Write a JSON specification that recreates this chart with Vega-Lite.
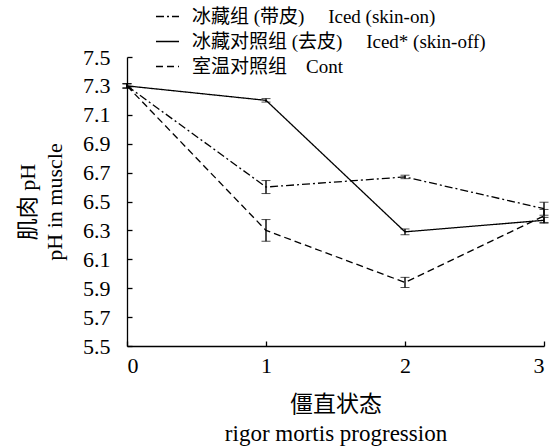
{
  "$schema": "https://vega.github.io/schema/vega-lite/v6.json",
  "width": 417,
  "height": 289,
  "autosize": {"type": "none"},
  "padding": {"left": 127, "top": 57, "right": 14, "bottom": 101},
  "config": {
    "font": "Liberation Serif, Noto Sans CJK SC",
    "view": {"stroke": null},
    "axis": {
      "domainColor": "black",
      "domainWidth": 1.3,
      "tickColor": "black",
      "tickWidth": 1.3,
      "tickSize": -5,
      "labelColor": "black",
      "titleColor": "black",
      "labelFontSize": 22,
      "titleFontSize": 22,
      "titleFontWeight": "normal",
      "labelOverlap": false,
      "grid": false
    }
  },
  "data": {
    "values": [
      {"stage": 0, "group": "skinon", "pH": 7.30, "err": 0.015},
      {"stage": 1, "group": "skinon", "pH": 6.60, "err": 0.045},
      {"stage": 2, "group": "skinon", "pH": 6.67, "err": 0.012},
      {"stage": 3, "group": "skinon", "pH": 6.45, "err": 0.045},
      {"stage": 0, "group": "skinoff", "pH": 7.30, "err": 0.015},
      {"stage": 1, "group": "skinoff", "pH": 7.20, "err": 0.012},
      {"stage": 2, "group": "skinoff", "pH": 6.29, "err": 0.02},
      {"stage": 3, "group": "skinoff", "pH": 6.37, "err": 0.02},
      {"stage": 0, "group": "cont", "pH": 7.30, "err": 0.015},
      {"stage": 1, "group": "cont", "pH": 6.30, "err": 0.075},
      {"stage": 2, "group": "cont", "pH": 5.94, "err": 0.035},
      {"stage": 3, "group": "cont", "pH": 6.40, "err": 0.045}
    ]
  },
  "encoding": {
    "x": {
      "field": "stage", "type": "quantitative",
      "scale": {"domain": [0, 3], "nice": false},
      "axis": {
        "values": [0, 1, 2, 3], "format": "d", "labelPadding": 14,
        "title": ["僵直状态", "rigor mortis progression"],
        "titleFontSize": 23, "titleLineHeight": 29, "titlePadding": 17
      }
    },
    "y": {
      "field": "pH", "type": "quantitative",
      "scale": {"domain": [5.5, 7.5], "nice": false, "zero": false},
      "axis": {
        "values": [5.5, 5.7, 5.9, 6.1, 6.3, 6.5, 6.7, 6.9, 7.1, 7.3, 7.5],
        "format": ".1f", "labelPadding": 22,
        "title": ["肌肉 pH", "pH in muscle"],
        "titleFontSize": 22, "titleLineHeight": 27, "titlePadding": 16
      }
    }
  },
  "layer": [
    {
      "mark": {"type": "line", "color": "black", "strokeWidth": 1.3},
      "encoding": {
        "strokeDash": {
          "field": "group", "type": "nominal",
          "scale": {
            "domain": ["skinon", "skinoff", "cont"],
            "range": [[8, 3, 2, 3], [1, 0], [7, 4]]
          },
          "legend": {
            "orient": "none", "legendX": 28, "legendY": -53,
            "title": null, "padding": 0,
            "symbolType": "stroke", "symbolSize": 530,
            "symbolStrokeColor": "black", "symbolStrokeWidth": 1.3,
            "labelFontSize": 19, "labelColor": "black", "labelOffset": 12,
            "labelLimit": 0, "rowPadding": 2,
            "labelExpr": "datum.value == 'skinon' ? '冰藏组 (带皮)\u00a0\u00a0\u00a0\u00a0\u00a0Iced (skin-on)' : datum.value == 'skinoff' ? '冰藏对照组 (去皮)\u00a0\u00a0\u00a0\u00a0\u00a0Iced* (skin-off)' : '室温对照组\u00a0\u00a0\u00a0\u00a0Cont'"
          }
        }
      }
    },
    {
      "mark": {
        "type": "errorbar",
        "ticks": {"size": 9, "color": "black", "strokeWidth": 1.4},
        "rule": {"color": "black", "strokeWidth": 1.4}
      },
      "encoding": {
        "yError": {"field": "err"},
        "detail": {"field": "group"}
      }
    }
  ]
}
